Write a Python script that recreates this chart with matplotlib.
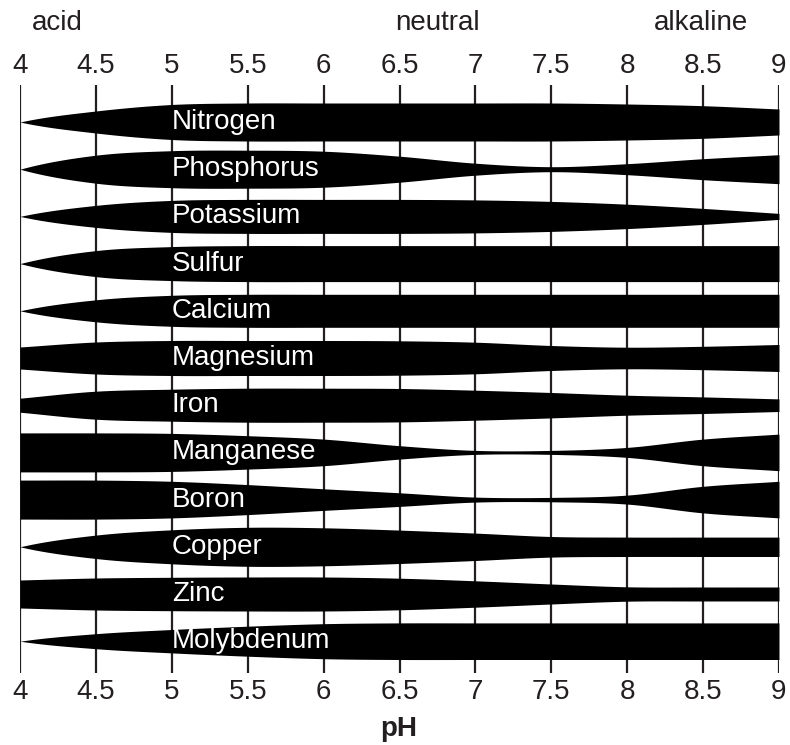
import numpy as np
import matplotlib
matplotlib.use("Agg")
import matplotlib.pyplot as plt

plt.rcParams['font.family'] = ['Liberation Sans', 'DejaVu Sans']

ph = [4, 4.5, 5, 5.5, 6, 6.5, 7, 7.5, 8, 8.5, 9]
ph_labels = ['4', '4.5', '5', '5.5', '6', '6.5', '7', '7.5', '8', '8.5', '9']

nutrients = ['Nitrogen', 'Phosphorus', 'Potassium', 'Sulfur', 'Calcium', 'Magnesium',
             'Iron', 'Manganese', 'Boron', 'Copper', 'Zinc', 'Molybdenum']

# half width of each band (relative availability, ~20 = full)
nitrogen   = [0, 11, 17.5, 19, 19, 19, 19, 19, 18, 16.3, 13]
phosphorus = [0, 14, 18.5, 19, 18, 13, 6, 2.5, 5.5, 10.5, 14.5]
potassium  = [0, 11, 16, 17, 17, 17, 16.5, 15, 12.2, 8, 3]
sulfur     = [0, 13, 17, 18, 18, 18, 18, 18, 18, 18, 18]
calcium    = [0, 11, 15.5, 16.5, 16.5, 16.5, 16.5, 16.5, 16.5, 16.5, 16.5]
magnesium  = [11, 16, 17.5, 17.5, 17.5, 17.2, 15.8, 12.5, 10.8, 11.7, 13.5]
iron       = [7, 14, 16, 17, 17, 16.7, 15, 12.7, 10, 8.3, 6.3]
manganese  = [19.5, 19.5, 19, 16.7, 13.3, 6.7, 2, 2, 5, 13.3, 18.3]
boron      = [19.5, 19.5, 18.3, 15, 10.8, 6.8, 2.5, 2.2, 4.5, 13.3, 18.3]
copper     = [0, 11.7, 17, 19.5, 19, 16.7, 13.7, 10.3, 9.7, 9.7, 9.7]
zinc       = [14, 16, 16.7, 17, 17, 15.8, 13.2, 10, 7.2, 7, 7]
molybdenum = [0, 7.5, 11.7, 15, 17.5, 18.3, 18.3, 18.3, 18.3, 18.3, 18.3]

widths = [nitrogen, phosphorus, potassium, sulfur, calcium, magnesium,
          iron, manganese, boron, copper, zinc, molybdenum]

ROW = 47.2  # pixels between row centres


def smooth(xk, yk, n=30):
    # catmull-rom curve through the read-off points
    xk = np.asarray(xk, float)
    yk = np.asarray(yk, float)
    if yk[0] == 0:
        # pointed tip: start steeper so the edges bow outwards
        start = yk[0] - 2 * (yk[1] - yk[0])
    else:
        start = 2 * yk[0] - yk[1]
    ext = np.concatenate([[start], yk, [2 * yk[-1] - yk[-2]]])
    xs, ys = [], []
    for i in range(len(xk) - 1):
        p0, p1, p2, p3 = ext[i], ext[i + 1], ext[i + 2], ext[i + 3]
        t = np.linspace(0, 1, n, endpoint=False)
        y = 0.5 * (2 * p1 + (-p0 + p2) * t + (2 * p0 - 5 * p1 + 4 * p2 - p3) * t ** 2
                   + (-p0 + 3 * p1 - 3 * p2 + p3) * t ** 3)
        xs.append(xk[i] + (xk[i + 1] - xk[i]) * t)
        ys.append(y)
    xs.append([xk[-1]])
    ys.append([yk[-1]])
    return np.concatenate(xs), np.clip(np.concatenate(ys), 0, None)


fig = plt.figure(figsize=(7.9, 7.45), dpi=100)
W, H = 790, 745
top_px, bot_px = 85, 673
ax = fig.add_axes([20 / W, (H - bot_px) / H, 759 / W, (bot_px - top_px) / H])

first = 122
ymin, ymax = (bot_px - first) / ROW, (top_px - first) / ROW
ax.set_xlim(4, 9)
ax.set_ylim(ymin, ymax)

line_col = '#231f20'
ax.vlines(ph, ymin, ymax, color=line_col, lw=1.6, zorder=1)

for i, (name, w) in enumerate(zip(nutrients, widths)):
    x, hw = smooth(ph, w)
    hw = hw / ROW
    ax.fill_between(x, i - hw, i + hw, color='black', lw=0, zorder=2)
    ax.text(5.0, i, name, color='white', fontsize=20, ha='left', va='center', zorder=3)

for s in ax.spines.values():
    s.set_visible(False)
ax.set_yticks([])
ax.set_xticks(ph)
ax.set_xticklabels(ph_labels)
ax.tick_params(axis='x', top=True, labeltop=True, bottom=True, labelbottom=True,
               length=0, pad=4, labelsize=20, labelcolor=line_col)

fig.text(57 / W, 1 - 23 / H, 'acid', fontsize=20, ha='center', va='center', color=line_col)
fig.text(438 / W, 1 - 23 / H, 'neutral', fontsize=20, ha='center', va='center', color=line_col)
fig.text(701 / W, 1 - 23 / H, 'alkaline', fontsize=20, ha='center', va='center', color=line_col)
fig.text(399 / W, 1 - 729 / H, 'pH', fontsize=20, fontweight='bold', ha='center', va='center',
         color=line_col)

fig.savefig('out.png', dpi=100)
